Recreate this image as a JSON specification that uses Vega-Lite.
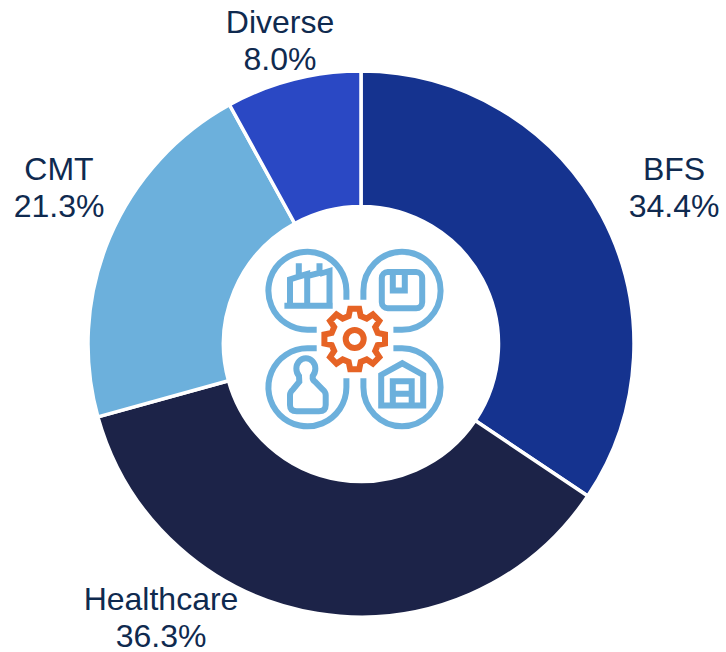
{
  "$schema": "https://vega.github.io/schema/vega-lite/v6.json",
  "width": 722,
  "height": 616,
  "padding": {"left": 0, "top": 36, "right": 4, "bottom": 0},
  "autosize": {"type": "none"},
  "background": "white",
  "config": {"view": {"stroke": null}},
  "layer": [
    {
      "data": {"values": [
        {"segment": "BFS", "share": 34.4, "rank": 1},
        {"segment": "Healthcare", "share": 36.3, "rank": 2},
        {"segment": "CMT", "share": 21.3, "rank": 3},
        {"segment": "Diverse", "share": 8.0, "rank": 4}
      ]},
      "mark": {"type": "arc", "outerRadius": 273, "innerRadius": 137.5, "stroke": "white", "strokeWidth": 3.5},
      "encoding": {
        "theta": {"field": "share", "type": "quantitative", "stack": true},
        "order": {"field": "rank", "type": "ordinal"},
        "color": {"field": "segment", "type": "nominal", "legend": null,
          "scale": {"domain": ["BFS", "Healthcare", "CMT", "Diverse"], "range": ["#15338F", "#1C2348", "#6CB0DC", "#2A48C4"]}}
      }
    },
    {
      "data": {"values": [
        {"text": "BFS\n34.4%", "lx": 313, "ly": 174},
        {"text": "Healthcare\n36.3%", "lx": -200, "ly": -256},
        {"text": "CMT\n21.3%", "lx": -302, "ly": 174},
        {"text": "Diverse\n8.0%", "lx": -81, "ly": 321}
      ]},
      "mark": {"type": "text", "font": "Liberation Sans", "fontSize": 32, "lineHeight": 37, "color": "#0F2A4F", "lineBreak": "\n", "align": "center", "baseline": "middle"},
      "encoding": {
        "x": {"field": "lx", "type": "quantitative", "axis": null, "scale": {"domain": [-361, 361]}},
        "y": {"field": "ly", "type": "quantitative", "axis": null, "scale": {"domain": [-308, 308]}},
        "text": {"field": "text", "type": "nominal"}
      }
    },
    {
      "data": {"values": [
        {"part": "ringTL", "cx": -6.3, "cy": 5, "kind": "ring"},
        {"part": "ringTR", "cx": -6.3, "cy": 5, "kind": "ring"},
        {"part": "ringBL", "cx": -6.3, "cy": 5, "kind": "ring"},
        {"part": "ringBR", "cx": -6.3, "cy": 5, "kind": "ring"},
        {"part": "factory", "cx": -6.3, "cy": 5, "kind": "ring"},
        {"part": "box", "cx": -6.3, "cy": 5, "kind": "ring"},
        {"part": "person", "cx": -6.3, "cy": 5, "kind": "ring"},
        {"part": "house", "cx": -6.3, "cy": 5, "kind": "ring"},
        {"part": "gear", "cx": -6.3, "cy": 5, "kind": "gear"}
      ]},
      "mark": {"type": "point", "filled": false, "strokeWidth": 6, "size": 4, "opacity": 1, "strokeJoin": "miter"},
      "encoding": {
        "x": {"field": "cx", "type": "quantitative", "axis": null, "scale": {"domain": [-361, 361]}},
        "y": {"field": "cy", "type": "quantitative", "axis": null, "scale": {"domain": [-308, 308]}},
        "color": {"field": "kind", "type": "nominal", "legend": null, "scale": {"domain": ["ring", "gear"], "range": ["#6CB0DC", "#E66325"]}},
        "shape": {"field": "part", "type": "nominal", "legend": null, "scale": {
          "domain": ["ringTL", "ringTR", "ringBL", "ringBR", "factory", "box", "person", "house", "gear"],
          "range": [
            "M-8.3 -39.3 L-8.3 -48.3 A39 39 0 1 0 -47 -9.3 L-38 -9.3",
            "M8.7 -39.3 L8.7 -48.3 A38.6 39 0 1 1 47.3 -9.3 L38.7 -9.3",
            "M-38 9.3 L-47 9.3 A39 39 0 1 0 -8.3 48.3 L-8.3 39.3",
            "M38.7 9.3 L47.3 9.3 A38.6 39 0 1 1 8.7 48.3 L8.7 39.3",
            "M-70.3 -33.3 H-22 M-64.7 -33.3 V-59.5 L-55.9 -62.5 V-75.7 M-55.9 -62.5 L-47.5 -65 V-33.3 M-47.5 -63 L-35.2 -66 V-75.7 M-35.2 -65 L-25.2 -68 V-33.3",
            "M33 -67 H61.5 A6 6 0 0 1 67.5 -61 V-36.7 A6 6 0 0 1 61.5 -30.7 H33 A6 6 0 0 1 27.1 -36.7 V-61 A6 6 0 0 1 33 -67 Z M38.1 -67 V-48.5 H50.1 V-67",
            "M-64.7 56 V66 Q-64.7 72.3 -58 72.3 H-35.7 Q-29 72.3 -29 66 V56 Q-29 53 -32 50.5 L-39.7 42.7 Q-42.5 41 -42 37 A9.5 10.5 0 1 0 -55.7 37 Q-55.5 41 -55.4 42.7 L-61.7 50.5 Q-64.7 53 -64.7 56 Z",
            "M26.5 66.5 V36 L47.6 24.3 L68.5 36 V66.5 Z M38.1 66.5 V42.2 H57 V66.5 M38.1 54.8 H57",
            "M-6 -23 L-4.5 -30.3 H4.5 L6 -23 L12 -20.5 L18.2 -24.6 L24.6 -18.2 L20.5 -12 L23 -6 L30.3 -4.5 V4.5 L23 6 L20.5 12 L24.6 18.2 L18.2 24.6 L12 20.5 L6 23 L4.5 30.3 H-4.5 L-6 23 L-12 20.5 L-18.2 24.6 L-24.6 18.2 L-20.5 12 L-23 6 L-30.3 4.5 V-4.5 L-23 -6 L-20.5 -12 L-24.6 -18.2 L-18.2 -24.6 L-12 -20.5 Z M9 0 A9 9 0 1 1 -9 0 A9 9 0 1 1 9 0 Z"
          ]}}
      }
    }
  ],
  "resolve": {"scale": {"color": "independent", "shape": "independent"}}
}
